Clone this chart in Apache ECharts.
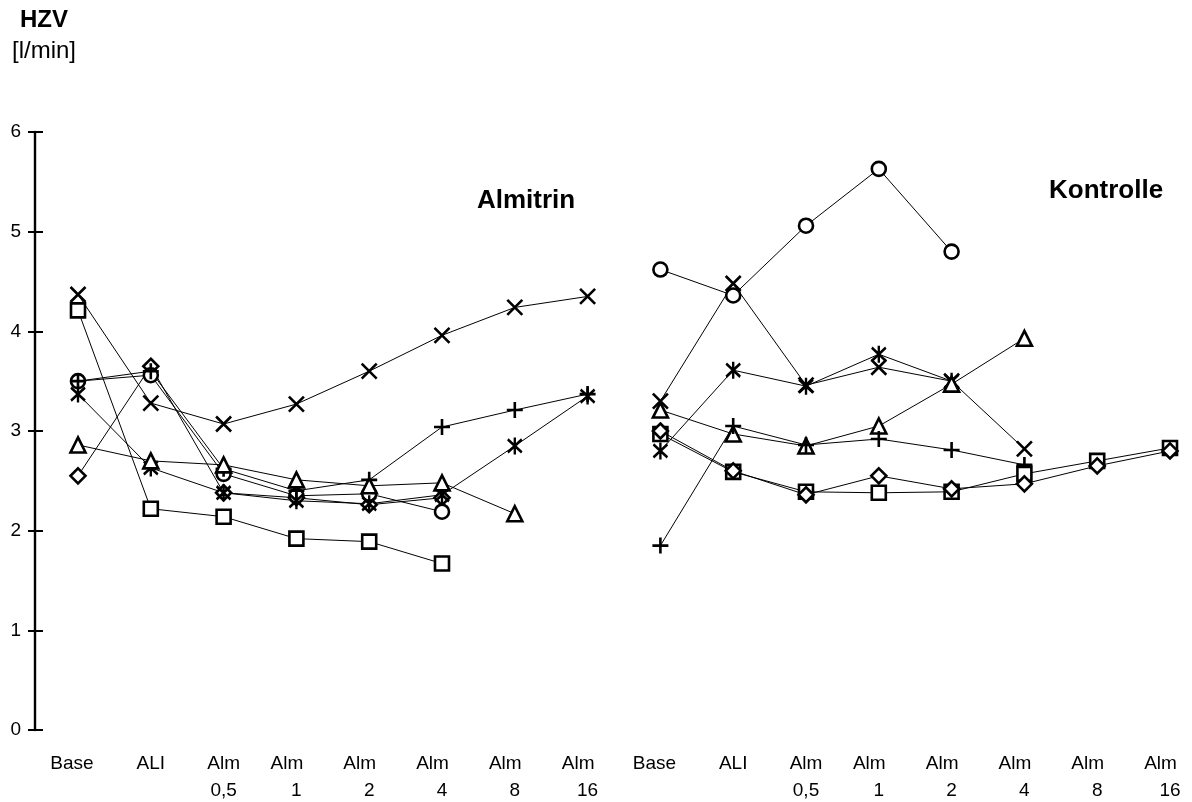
<!DOCTYPE html>
<html>
<head>
<meta charset="utf-8">
<script src="https://cdn.jsdelivr.net/npm/echarts@6/dist/echarts.min.js"></script>
<style>
html,body{margin:0;padding:0;background:#fff;}
#chart{width:1192px;height:802px;}
</style>
</head>
<body>
<div id="chart"></div>
<script>
// Categories (two groups: Almitrin, Kontrolle)
const categories = ['Base','ALI','Alm\n0,5','Alm\n1','Alm\n2','Alm\n4','Alm\n8','Alm\n16',
                    'Base','ALI','Alm\n0,5','Alm\n1','Alm\n2','Alm\n4','Alm\n8','Alm\n16'];
const yTicks = [0,1,2,3,4,5,6];

// Almitrin group (HZV, l/min)
const almCross    = [4.37, 3.28, 3.07, 3.27, 3.60, 3.96, 4.24, 4.35];
const almSquare   = [4.21, 2.22, 2.14, 1.92, 1.89, 1.67, null, null];
const almDiamond  = [2.55, 3.65, 2.38, 2.33, 2.26, 2.33, null, null];
const almCircle   = [3.50, 3.56, 2.57, 2.35, 2.37, 2.19, null, null];
const almPlus     = [3.50, 3.60, 2.62, 2.40, 2.51, 3.04, 3.21, 3.37];
const almStar     = [3.37, 2.63, 2.38, 2.30, 2.27, 2.36, 2.85, 3.35];
const almTriangle = [2.86, 2.70, 2.66, 2.51, 2.45, 2.48, 2.17, null];

// Kontrolle group
const konCross    = [3.30, 4.48, 3.46, 3.64, 3.50, 2.82, null, null];
const konCircle   = [4.62, 4.36, 5.06, 5.63, 4.80, null, null, null];
const konStar     = [2.80, 3.61, 3.45, 3.77, 3.50, null, null, null];
const konTriangle = [3.21, 2.97, 2.85, 3.05, 3.47, 3.93, null, null];
const konPlus     = [1.85, 3.05, 2.86, 2.92, 2.81, 2.66, null, null];
const konSquare   = [2.97, 2.59, 2.39, 2.38, 2.39, 2.57, 2.70, 2.83];
const konDiamond  = [3.00, 2.60, 2.36, 2.55, 2.42, 2.47, 2.65, 2.80];

const SYM = {
  cross: 'path://M0,0L10,10M10,0L0,10',
  plus: 'path://M5,0L5,10M0,5L10,5',
  star: 'path://M0,0L10,10M10,0L0,10M5,-1.5L5,11.5',
  circle: 'circle', square: 'rect', diamond: 'diamond', triangle: 'triangle'
};
const SIZE = {cross: 15, plus: 16, star: [14,17], circle: 14, square: 14, diamond: 15, triangle: 15};

const groups = [
  {data: almCross, sym: 'cross', side: 0},
  {data: almSquare, sym: 'square', side: 0},
  {data: almDiamond, sym: 'diamond', side: 0},
  {data: almCircle, sym: 'circle', side: 0},
  {data: almPlus, sym: 'plus', side: 0},
  {data: almStar, sym: 'star', side: 0},
  {data: almTriangle, sym: 'triangle', side: 0},
  {data: konCross, sym: 'cross', side: 1},
  {data: konCircle, sym: 'circle', side: 1},
  {data: konStar, sym: 'star', side: 1},
  {data: konTriangle, sym: 'triangle', side: 1},
  {data: konPlus, sym: 'plus', side: 1},
  {data: konSquare, sym: 'square', side: 1},
  {data: konDiamond, sym: 'diamond', side: 1}
];

const pad = new Array(8).fill(null);
const series = [];
groups.forEach(g => {
  const full = g.side === 0 ? g.data.concat(pad) : pad.concat(g.data);
  series.push({
    type: 'line', data: full, symbol: 'none', z: 2, silent: true, animation: false,
    connectNulls: false,
    lineStyle: {color: '#000', width: 1}
  });
  series.push({
    type: 'line', data: full, z: 3, silent: true, animation: false,
    symbol: SYM[g.sym], symbolSize: SIZE[g.sym], showSymbol: true, showAllSymbol: true,
    connectNulls: false,
    lineStyle: {opacity: 0, width: 0},
    itemStyle: {color: '#fff', borderColor: '#000', borderWidth: 2.6}
  });
});

const FONT = '"Liberation Sans", Arial, sans-serif';
const chart = echarts.init(document.getElementById('chart'), null, {renderer: 'canvas'});
chart.setOption({
  backgroundColor: '#fff',
  animation: false,
  grid: {left: 78, right: 22, top: 132, bottom: 72, outerBoundsMode: 'none', containLabel: false},
  xAxis: {
    type: 'category', data: categories, boundaryGap: false,
    axisLine: {show: false}, axisTick: {show: false}, splitLine: {show: false},
    axisLabel: {
      interval: 0, margin: 20, color: '#000', fontFamily: FONT, fontSize: 19, lineHeight: 27,
      formatter: function (v) {
        const p = v.split('\n');
        if (p.length === 1) return p[0] === 'Base' ? '{b|Base}' : '{s|' + p[0] + '}';
        if (p[1] === '0,5') return '{s|' + p[0] + '}\n{s|' + p[1] + '}';
        return '{a|' + p[0] + '}\n{s|' + p[1] + '}';
      },
      rich: {
        s: {fontFamily: FONT, fontSize: 19, lineHeight: 27, color: '#000'},
        a: {fontFamily: FONT, fontSize: 19, lineHeight: 27, color: '#000', padding: [0, 19, 0, 0]},
        b: {fontFamily: FONT, fontSize: 19, lineHeight: 27, color: '#000', padding: [0, 12, 0, 0]}
      }
    }
  },
  yAxis: [{
    type: 'value', min: yTicks[0], max: yTicks[yTicks.length - 1], interval: 1, offset: 43,
    position: 'left',
    axisLine: {show: true, lineStyle: {color: '#000', width: 2.4}},
    axisTick: {show: true, length: 7, lineStyle: {color: '#000', width: 2}},
    splitLine: {show: false},
    axisLabel: {margin: 14, color: '#000', fontFamily: FONT, fontSize: 19}
  }, {
    type: 'value', min: yTicks[0], max: yTicks[yTicks.length - 1], interval: 1, offset: 43,
    position: 'left',
    axisLine: {show: false},
    axisTick: {show: true, inside: true, length: 8, lineStyle: {color: '#000', width: 2}},
    splitLine: {show: false},
    axisLabel: {show: false}
  }],
  graphic: [
    {type: 'text', left: 20, top: 8, style: {text: 'HZV', fontFamily: FONT, fontSize: 24, fontWeight: 'bold', fill: '#000'}},
    {type: 'text', left: 12, top: 39, style: {text: '[l/min]', fontFamily: FONT, fontSize: 24, fill: '#000'}},
    {type: 'text', left: 477, top: 188, style: {text: 'Almitrin', fontFamily: FONT, fontSize: 26, fontWeight: 'bold', fill: '#000'}},
    {type: 'text', left: 1049, top: 178, style: {text: 'Kontrolle', fontFamily: FONT, fontSize: 26, fontWeight: 'bold', fill: '#000'}}
  ],
  series: series
});
</script>
</body>
</html>
